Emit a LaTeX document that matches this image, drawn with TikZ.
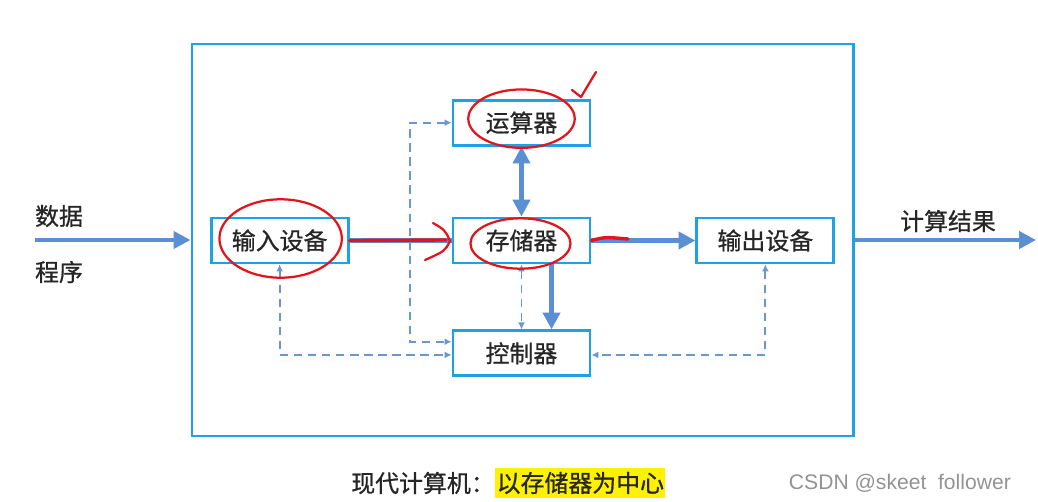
\documentclass[tikz,border=0pt]{standalone}
\usepackage{fontspec}
\newfontfamily\cjk{Noto Sans CJK SC}[FakeBold=0.8]
\setsansfont{Liberation Sans}
\usetikzlibrary{arrows.meta, positioning, calc}
\definecolor{boxblue}{HTML}{1FA2E4}
\definecolor{busblue}{HTML}{5B8FD4}
\definecolor{sigblue}{HTML}{6A98CE}
\definecolor{inkred}{HTML}{E2141C}
\definecolor{txt}{HTML}{262626}

\begin{document}
\begin{tikzpicture}[
    x=0.025cm, y=-0.025cm,
    box/.style={draw=boxblue, line width=2pt, minimum width=3.425cm, minimum height=1.125cm,
                inner sep=0pt, font=\cjk\fontsize{17}{20}\selectfont, text=txt},
    frame/.style={draw=boxblue, line width=2pt, minimum width=16.525cm, minimum height=9.8cm},
    lbl/.style={font=\cjk\fontsize{17}{20}\selectfont, text=txt, inner sep=0pt},
    bus/.style={-{Triangle[length=12pt, width=12pt]}, line width=3.2pt, draw=busblue},
    sig/.style={{Latex[length=5pt, width=5pt]}-{Latex[length=5pt, width=5pt]},
                draw=sigblue, line width=1.4pt, dash pattern=on 6pt off 4pt},
    ink/.style={draw=inkred, line width=1.6pt, line cap=round, line join=round},
    node distance=1.75cm
]
    \useasboundingbox (0,0) rectangle (1038,501);

    \node[frame] (frame) at (522.5,240) {};
    \node[box] (mem) at (521.5,240.5) {存储器};
    \node[box, above=of mem] (alu) {运算器};
    \node[box, below=1.625cm of mem] (ctl) {控制器};
    \node[box, left=2.55cm of mem] (in) {输入设备};
    \node[box, right=2.6cm of mem] (out) {输出设备};

    \coordinate (src) at (35,240);
    \coordinate (dst) at (1036,240);
    \node[lbl] (data) at (59,216) {数据};
    \node[lbl] (prog) at (59,272) {程序};
    \node[lbl] (res) at (948,221) {计算结果};

    \draw[bus] (src) -- (frame.west);
    \draw[bus] (frame.east) -- (dst);
    \draw[bus, -] (in) -- (mem);
    \draw[bus] (mem) -- (out);
    \draw[bus, {Triangle[length=12pt, width=12pt]}-{Triangle[length=12pt, width=12pt]}] (alu) -- (mem);
    \draw[bus] ([xshift=0.75cm]mem.south) -- ([xshift=0.75cm]ctl.north);

    \draw[sig] (mem) -- (ctl);
    \draw[sig] (alu.west) -- ++(-1.05cm,0) |- ([yshift=0.29cm]ctl.west);
    \draw[sig] (in.south) |- ([yshift=-0.04cm]ctl.west);
    \draw[sig] (out.south) |- ([yshift=-0.04cm]ctl.east);

    % red pen marks
    \draw[ink] (alu.center) ++(0,-4) ellipse [x radius=1.33cm, y radius=0.73cm];
    \draw[ink] (572,90) -- (581,97) -- (596,72);
    \draw[ink] (in.center) ++(1,-2) ellipse [x radius=1.53cm, y radius=0.98cm];
    \draw[ink] (mem.center) ++(-1,3) ellipse [x radius=1.25cm, y radius=0.63cm];
    \draw[ink, line width=2.4pt] (in.east) -- (446,240);
    \draw[ink] (433,223) .. controls (445,230) .. (450,241) .. controls (445,251) .. (425,260);
    \draw[ink, line width=2.4pt] (mem.east) .. controls (605,237) .. (628,239);

    \node[lbl, anchor=west] (capa) at (351,483) {现代计算机：};
    \node[lbl, right=0pt of capa, fill=yellow, inner ysep=3pt, inner xsep=1pt] (capb) {以存储器为中心};
    \node[font=\sffamily\fontsize{15}{18}\selectfont, text=gray!85, anchor=west] (mark) at (784,483) {CSDN @skeet\ \ follower};
\end{tikzpicture}
\end{document}
